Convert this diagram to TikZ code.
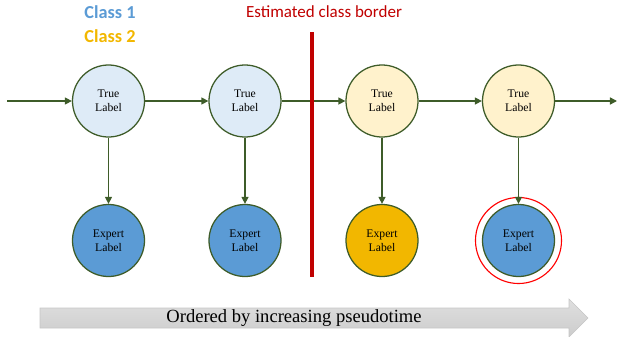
\documentclass[tikz,border=0pt]{standalone}
\usepackage{fontspec}
\setmainfont{Liberation Serif}
\newfontfamily\calibri{Carlito}
\usetikzlibrary{arrows.meta}
\definecolor{edgegreen}{HTML}{3E5C29}
\definecolor{lightblue}{HTML}{DEEBF7}
\definecolor{lightyellow}{HTML}{FFF2CC}
\definecolor{classblue}{HTML}{5B9BD5}
\definecolor{classyellow}{HTML}{F2B700}
\definecolor{borderred}{HTML}{C00000}
\begin{document}
\begin{tikzpicture}[x=0.025cm, y=-0.025cm]
\useasboundingbox (0,0) rectangle (618,336);
% pseudotime arrow
\path[top color=gray!25, bottom color=gray!40, draw=gray!45]
  (40,308) -- (569,308) -- (569,299) -- (588,318) -- (569,337) -- (569,328) -- (40,328) -- cycle;
\node (time) at (294,318) {\fontsize{13.2}{15}\selectfont Ordered by increasing pseudotime};
% legend and border
\node (c1) at (110,12) {\calibri\bfseries\fontsize{13}{15}\selectfont\color{classblue}Class 1};
\node (c2) at (110,36) {\calibri\bfseries\fontsize{13}{15}\selectfont\color{classyellow}Class 2};
\node (est) at (324,12) {\calibri\fontsize{12.1}{14}\selectfont\color{borderred}Estimated class border};
\coordinate (btop) at (312,32);
\coordinate (bbot) at (312,277);
\begin{scope}[every node/.style = {circle, draw=edgegreen, line width=0.9pt, minimum size=1.8cm,
    inner sep=0pt, align=center, font=\fontsize{8.3}{10}\selectfont}]
\node[fill=lightblue] (t1) at (108.5,101) {True\\Label};
\node[fill=lightblue] (t2) at (245,101) {True\\Label};
\node[fill=lightyellow] (t3) at (382,101) {True\\Label};
\node[fill=lightyellow] (t4) at (518.5,101) {True\\Label};
\node[fill=classblue] (e1) at (108.5,240.5) {Expert\\Label};
\node[fill=classblue] (e2) at (245,240.5) {Expert\\Label};
\node[fill=classyellow] (e3) at (382,240.5) {Expert\\Label};
\node[fill=classblue] (e4) at (518.5,240.5) {Expert\\Label};
\end{scope}
\node[circle, draw=red, line width=0.8pt, minimum size=2.15cm] (ring) at (e4) {};
\coordinate (in) at (7,101);
\coordinate (out) at (617,101);
\begin{scope}[every edge/.style = {draw=edgegreen, line width=1pt,
    -{Triangle[length=5pt, width=5pt]}}]
\path (in) edge (t1);
\path (t1) edge (t2);
\path (t2) edge (t3);
\path (t3) edge (t4);
\path (t4) edge (out);
\path (t1) edge (e1);
\path (t2) edge (e2);
\path (t3) edge (e3);
\path (t4) edge (e4);
\end{scope}
\draw[borderred, line width=2.2pt] (btop) -- (bbot);
\end{tikzpicture}
\end{document}
